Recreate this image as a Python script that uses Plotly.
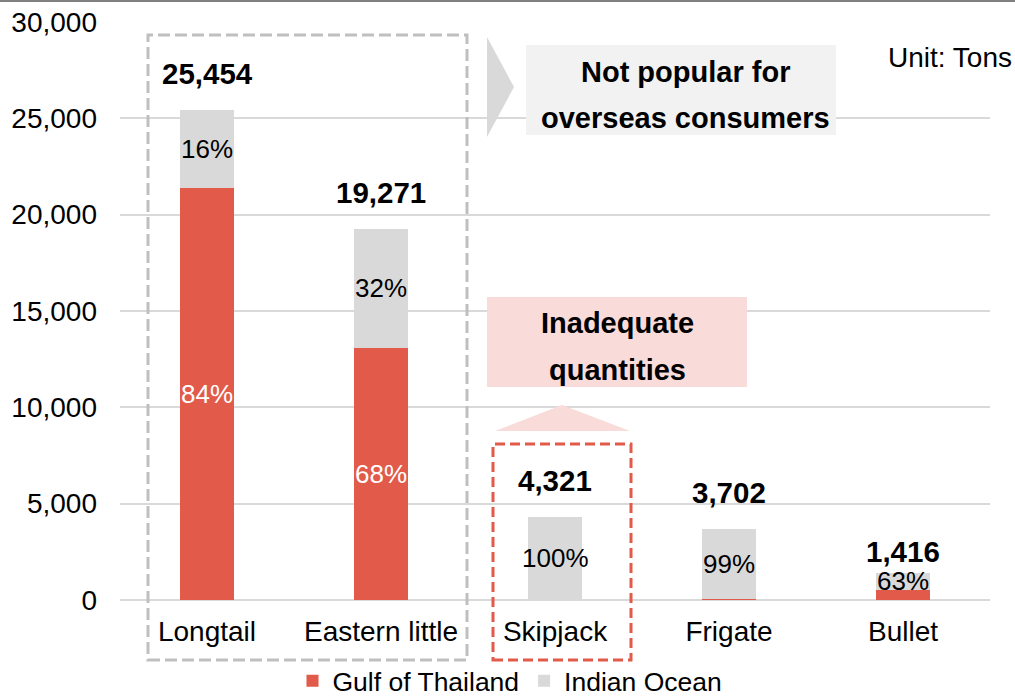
import plotly.graph_objects as go

# ---- data ----
categories = ["Longtail", "Eastern little", "Skipjack", "Frigate", "Bullet"]
totals = [25454, 19271, 4321, 3702, 1416]
gulf_tons = [21381, 13104, 0, 37, 524]
indian_tons = [4073, 6167, 4321, 3665, 892]
gulf_pct_labels = ["84%", "68%", "", "", ""]
indian_pct_labels = ["16%", "32%", "100%", "99%", "63%"]
y_ticks = [0, 5000, 10000, 15000, 20000, 25000, 30000]

# ---- style ----
RED = "#E25B4A"
GRAY = "#D9D9D9"
FONT = "Liberation Sans, Arial, sans-serif"
W, H = 1015, 697
L, R, T, B = 120, 25, 22, 97
PW, PH = W - L - R, H - T - B


def px(xp):
    return (xp - L) / PW


def py(yp):
    return (H - B - yp) / PH


fig = go.Figure()
fig.add_trace(go.Bar(x=categories, y=gulf_tons, name="Gulf of Thailand",
                     marker=dict(color=RED, line=dict(width=0)), width=0.316,
                     hoverinfo="skip"))
fig.add_trace(go.Bar(x=categories, y=indian_tons, name="Indian Ocean",
                     marker=dict(color=GRAY, line=dict(width=0)), width=0.316,
                     hoverinfo="skip"))

annotations = []
total_shift = [36, 36, 36, 36, 21]
for i, c in enumerate(categories):
    annotations.append(dict(x=c, y=totals[i], xref="x", yref="y",
                            text=f"<b>{totals[i]:,}</b>", showarrow=False,
                            yanchor="middle", yshift=total_shift[i],
                            font=dict(size=29.5, color="black", family=FONT)))
    if gulf_pct_labels[i]:
        annotations.append(dict(x=c, y=gulf_tons[i] / 2, xref="x", yref="y",
                                text=gulf_pct_labels[i], showarrow=False,
                                yanchor="middle",
                                font=dict(size=26, color="white", family=FONT)))
    if indian_pct_labels[i]:
        annotations.append(dict(x=c, y=gulf_tons[i] + indian_tons[i] / 2,
                                xref="x", yref="y",
                                text=indian_pct_labels[i], showarrow=False,
                                yanchor="middle",
                                font=dict(size=26, color="black", family=FONT)))

# callout texts
for txt, cx, cy in [("Not popular for", 685, 72), ("overseas consumers", 685, 118),
                    ("Inadequate", 617, 323), ("quantities", 617, 370)]:
    annotations.append(dict(x=px(cx), y=py(cy), xref="paper", yref="paper",
                            text=f"<b>{txt}</b>", showarrow=False,
                            xanchor="center", yanchor="middle",
                            font=dict(size=29, color="black", family=FONT)))
annotations.append(dict(x=px(1014), y=py(58), xref="paper", yref="paper",
                        text="Unit: Tons", showarrow=False,
                        xanchor="right", yanchor="middle",
                        font=dict(size=28, color="black", family=FONT)))


def rect(x0, y0, x1, y1, **kw):
    return dict(type="rect", xref="paper", yref="paper",
                x0=px(x0), x1=px(x1), y0=py(y1), y1=py(y0), **kw)


def poly(points, **kw):
    d = "M " + " L ".join(f"{px(a)},{py(b)}" for a, b in points) + " Z"
    return dict(type="path", xref="paper", yref="paper", path=d, **kw)


shapes = [
    rect(526, 45, 836, 135, fillcolor="#F2F2F2", line=dict(width=0)),
    poly([(487, 37), (514, 87), (487, 137)], fillcolor=GRAY, line=dict(width=0)),
    rect(487, 297, 747, 387, fillcolor="#F9DCD9", line=dict(width=0)),
    poly([(495, 431), (630, 431), (562, 405)], fillcolor="#F9DCD9", line=dict(width=0)),
    rect(148, 35, 467, 660, fillcolor="rgba(0,0,0,0)",
         line=dict(color="#BFBFBF", width=3, dash="12px,5px")),
    rect(493, 444, 631, 660, fillcolor="rgba(0,0,0,0)",
         line=dict(color=RED, width=3, dash="10px,5px")),
    dict(type="line", xref="paper", yref="paper", x0=px(0), x1=px(W),
         y0=py(1), y1=py(1), line=dict(color="#808080", width=2)),
]

fig.update_layout(
    barmode="stack",
    width=W, height=H,
    margin=dict(l=L, r=R, t=T, b=B, pad=0, autoexpand=False),
    paper_bgcolor="white", plot_bgcolor="white",
    font=dict(family=FONT, size=28, color="black"),
    showlegend=True,
    legend=dict(orientation="h", x=px(510), xanchor="center",
                y=py(681), yanchor="middle", font=dict(size=26.5),
                itemwidth=30, traceorder="normal",
                bgcolor="rgba(0,0,0,0)"),
    annotations=annotations,
    shapes=shapes,
    hovermode=False,
)
fig.update_xaxes(showgrid=False, showline=False, ticks="",
                 tickfont=dict(size=28), ticklabelstandoff=12)
fig.update_yaxes(range=[0, 30000], tickvals=y_ticks,
                 ticktext=[f"{v:,}" for v in y_ticks],
                 showgrid=True, gridcolor=GRAY, gridwidth=2,
                 zeroline=True, zerolinecolor=GRAY, zerolinewidth=2,
                 showline=False, ticks="", tickfont=dict(size=28),
                 ticklabelstandoff=22)

fig.write_html("out.html",
               config={"displayModeBar": False, "staticPlot": True},
               post_script="document.body.style.margin='0';"
                           "document.body.style.overflow='hidden';")
